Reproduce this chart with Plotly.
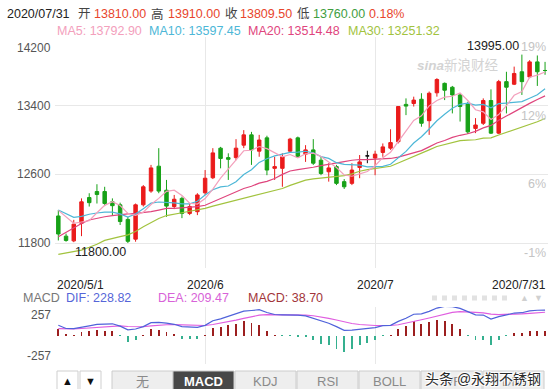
import plotly.graph_objects as go

W, H = 556, 389
PL, PR = 55, 548
FONT = "Liberation Sans, Arial, Noto Sans CJK SC, sans-serif"

# ---------------- data ----------------
idx = list(range(64))
opens = [12115, 11880, 11825, 12030, 12330, 12400, 12400, 12280, 12245, 12075,
         11845, 12245, 12405, 12695, 12415, 12225, 12320, 12145, 12165, 12385,
         12560, 12905, 12795, 12795, 12940, 13060, 12870, 13025, 12670, 12670,
         12870, 13025, 12835, 12885, 12765, 12630, 12690, 12515, 12495, 12680,
         12815, 12790, 12855, 12905, 12980, 13415, 13425, 13475, 13225, 13550,
         13660, 13615, 13525, 13420, 13135, 13195, 13460, 13080, 13680, 13650,
         13795, 13735, 13910, 13810]
highs = [12185, 11910, 12070, 12320, 12380, 12485, 12455, 12320, 12270, 12105,
         12260, 12475, 12710, 12905, 12535, 12360, 12340, 12260, 12380, 12650,
         12905, 12920, 12845, 13010, 13115, 13095, 13060, 13050, 12805, 12845,
         13025, 13040, 12940, 13010, 12805, 12730, 12710, 12545, 12730, 12825,
         12875, 12875, 12960, 13125, 13395, 13485, 13505, 13545, 13565, 13720,
         13670, 13630, 13545, 13445, 13255, 13485, 13590, 13700, 13795, 13855,
         13995, 13930, 13985, 13910]
lows = [11830, 11815, 11810, 11880, 12225, 12260, 12230, 12125, 12010, 11800,
        11815, 12225, 12385, 12380, 12105, 12195, 12090, 12125, 12125, 12360,
        12545, 12670, 12535, 12765, 12905, 12710, 12805, 12590, 12535, 12455,
        12855, 12795, 12745, 12710, 12590, 12515, 12475, 12430, 12475, 12555,
        12730, 12590, 12805, 12885, 12960, 13290, 13390, 13155, 13060, 13505,
        13465, 13310, 13215, 13070, 13080, 13175, 13070, 13070, 13310, 13640,
        13525, 13720, 13630, 13760]
closes = [11905, 11830, 12020, 12280, 12270, 12365, 12260, 12235, 12050, 11820,
          12245, 12455, 12675, 12405, 12230, 12310, 12145, 12225, 12360, 12555,
          12850, 12785, 12775, 12905, 13060, 12885, 13000, 12650, 12690, 12805,
          13010, 12805, 12885, 12730, 12610, 12675, 12495, 12455, 12650, 12745,
          12815, 12835, 12920, 12970, 13390, 13395, 13465, 13195, 13545, 13705,
          13580, 13525, 13390, 13095, 13175, 13460, 13080, 13680, 13615, 13775,
          13680, 13910, 13795, 13809.5]

ma5 = [12180, 12100, 12030, 12045, 12061, 12152, 12239, 12282, 12236, 12146,
       12122, 12160, 12248, 12320, 12402, 12415, 12353, 12263, 12254, 12318,
       12427, 12555, 12665, 12774, 12875, 12881, 12924, 12899, 12856, 12805,
       12831, 12792, 12839, 12847, 12808, 12741, 12679, 12594, 12578, 12605,
       12633, 12701, 12794, 12858, 12986, 13102, 13228, 13282, 13398, 13461,
       13499, 13510, 13549, 13460, 13353, 13328, 13239, 13297, 13401, 13521,
       13565, 13732, 13756, 13792.90]
ma10 = [12184, 12140, 12100, 12110, 12135, 12150, 12160, 12160, 12140, 12103,
        12137, 12200, 12265, 12278, 12274, 12268, 12257, 12256, 12287, 12360,
        12421, 12454, 12464, 12514, 12597, 12654, 12739, 12782, 12815, 12840,
        12856, 12858, 12869, 12851, 12807, 12786, 12736, 12716, 12712, 12707,
        12687, 12690, 12694, 12718, 12796, 12868, 12965, 13038, 13128, 13224,
        13300, 13369, 13416, 13429, 13407, 13414, 13375, 13423, 13430, 13437,
        13447, 13486, 13527, 13597.45]
ma20 = [11874, 11928, 11975, 12027, 12068, 12091, 12106, 12120, 12134, 12140,
        12146, 12155, 12165, 12184, 12204, 12204, 12208, 12216, 12223, 12240,
        12279, 12327, 12365, 12396, 12435, 12461, 12498, 12519, 12551, 12600,
        12639, 12656, 12667, 12683, 12702, 12720, 12738, 12749, 12764, 12773,
        12772, 12774, 12781, 12785, 12801, 12827, 12850, 12877, 12920, 12965,
        12994, 13030, 13055, 13073, 13101, 13141, 13170, 13231, 13279, 13330,
        13374, 13427, 13471, 13514.48]
ma30 = [11668, 11685, 11700, 11718, 11750, 11785, 11830, 11855, 11875, 11895,
        11935, 11990, 12040, 12085, 12120, 12140, 12153, 12170, 12184, 12204,
        12230, 12252, 12274, 12296, 12318, 12339, 12362, 12385, 12410, 12435,
        12471, 12504, 12533, 12548, 12559, 12570, 12577, 12585, 12605, 12636,
        12655, 12667, 12676, 12694, 12733, 12769, 12813, 12846, 12885, 12924,
        12948, 12972, 12993, 12999, 13003, 13022, 13025, 13059, 13090, 13123,
        13145, 13182, 13212, 13251.32]

dif = [92, 63, 62, 78, 87.5, 100.5, 103.5, 105.5, 84.5, 51,
       58.5, 80.5, 116, 118.5, 112, 101, 80, 77, 74, 91.5,
       133.5, 150.5, 173.5, 190.5, 219.5, 225.5, 232.5, 207.5, 189.5, 186.5,
       185.5, 183, 176.5, 155.5, 130.5, 110, 80, 47, 48, 54,
       58.5, 70.5, 88.5, 91.5, 127, 155, 191.5, 194.5, 218, 247.5,
       262.5, 260.5, 245, 213.5, 186.5, 184.5, 148, 169.5, 187.5, 202.5,
       205.5, 222.5, 227.5, 228.82]
dea = [62, 60, 60, 63, 68, 75, 81, 86, 86, 81,
       78, 79, 86, 93, 97, 98, 95, 92, 89, 90,
       99, 110, 124, 138, 155, 170, 183, 188, 188, 188,
       187, 186, 184, 178, 168, 155, 140, 122, 108, 99,
       93, 90, 90, 90, 97, 110, 127, 142, 158, 177,
       195, 208, 215, 215, 209, 204, 193, 189, 189, 192,
       195, 200, 205, 209.47]
macd = [60, 6, 4, 30, 39, 51, 45, 39, -3, -60,
        -39, 3, 60, 51, 30, 6, -30, -30, -30, 3,
        69, 81, 99, 105, 129, 111, 99, 39, 3, -3,
        -3, -6, -15, -45, -75, -90, -120, -150, -120, -90,
        -69, -39, -3, 3, 60, 90, 129, 105, 120, 141,
        135, 105, 60, -3, -45, -39, -90, -39, -3, 21,
        21, 45, 45, 38.70]

price_ticks = [11800, 12600, 13400, 14200]
pct_labels = ["-1%", "6%", "12%", "19%"]
macd_ticks = [-257, 257]
month_ticks = [19, 41]
month_labels = ["2020/6", "2020/7"]
first_date = "2020/5/1"
last_date = "2020/7/31"
header_date = "2020/07/31"
header_pct = "0.18%"
ma_names = ["MA5", "MA10", "MA20", "MA30"]
tabs = ["无", "MACD", "KDJ", "RSI", "BOLL", "WR", "DMI"]
active_tab = "MACD"

# ---------------- styles ----------------
UP, DOWN = "#ea1b1b", "#17a117"
MA_COLORS = ["#f3a0bc", "#4db7d7", "#df457d", "#a2c33e"]
DIF_C, DEA_C = "#4f62da", "#e05ee0"
GRID = "#e8e8e8"
Y_LO, Y_HI = 11509, 14200
X_LO, X_HI = -0.43, 63.38


def px(x):
    return (x - PL) / (PR - PL)


def py(y):
    return (H - y) / H


def ann(text, x, y, xa="left", ya="middle", size=12.5, color="#333", **kw):
    d = dict(text=text, x=px(x), y=py(y), xref="paper", yref="paper",
             xanchor=xa, yanchor=ya, showarrow=False,
             font=dict(size=size, color=color, family=FONT))
    d.update(kw)
    return d


fig = go.Figure()

main_i = [i for i in idx if opens[i] != closes[i]]
flat_i = [i for i in idx if opens[i] == closes[i]]

fig.add_trace(go.Candlestick(
    x=main_i, open=[opens[i] for i in main_i], high=[highs[i] for i in main_i],
    low=[lows[i] for i in main_i], close=[closes[i] for i in main_i],
    increasing=dict(line=dict(color=UP, width=1), fillcolor=UP),
    decreasing=dict(line=dict(color=DOWN, width=1), fillcolor=DOWN),
    whiskerwidth=0, xaxis="x", yaxis="y", hoverinfo="skip"))
fig.add_trace(go.Candlestick(
    x=flat_i, open=[opens[i] for i in flat_i], high=[highs[i] for i in flat_i],
    low=[lows[i] for i in flat_i], close=[closes[i] for i in flat_i],
    increasing=dict(line=dict(color="#111", width=1), fillcolor="#111"),
    decreasing=dict(line=dict(color="#111", width=1), fillcolor="#111"),
    whiskerwidth=0, xaxis="x", yaxis="y", hoverinfo="skip"))

for vals, col in zip([ma30, ma20, ma10, ma5], MA_COLORS[::-1]):
    fig.add_trace(go.Scatter(x=idx, y=vals, mode="lines",
                             line=dict(color=col, width=1.2), hoverinfo="skip",
                             xaxis="x", yaxis="y"))

fig.add_trace(go.Bar(x=idx, y=macd, width=0.12,
                     marker=dict(color=["#9c1f1f" if v >= 0 else "#35b08f" for v in macd],
                                 line=dict(width=0)),
                     xaxis="x2", yaxis="y2", hoverinfo="skip"))
fig.add_trace(go.Scatter(x=idx, y=dea, mode="lines", line=dict(color=DEA_C, width=1.2),
                         xaxis="x2", yaxis="y2", hoverinfo="skip"))
fig.add_trace(go.Scatter(x=idx, y=dif, mode="lines", line=dict(color=DIF_C, width=1.2),
                         xaxis="x2", yaxis="y2", hoverinfo="skip"))

annotations = []
hdr = [(header_date, "#222", 5), ("开", "#444", 76), (f"{opens[-1]:.2f}", "#e8452c", 92),
       ("高", "#444", 149), (f"{highs[-1]:.2f}", "#e8452c", 166),
       ("收", "#444", 223), (f"{closes[-1]:.2f}", "#e8452c", 238),
       ("低", "#444", 295), (f"{lows[-1]:.2f}", "#3f9e3f", 311),
       (header_pct, "#e8452c", 367)]
for t, c, x in hdr:
    annotations.append(ann(t, x, 14, color=c))
for name, vals, col, x in zip(ma_names, [ma5, ma10, ma20, ma30], MA_COLORS, [55, 147, 246, 346]):
    annotations.append(ann(f"{name}: {vals[-1]:.2f}", x, 31.5, color=col))
for p in price_ticks:
    annotations.append(dict(text=str(p), x=px(53), y=p, xref="paper", yref="y",
                            xanchor="right", yanchor="top" if p == Y_HI else "middle",
                            yshift=-2 if p == Y_HI else 0, showarrow=False,
                            font=dict(size=12, color="#555", family=FONT)))
for p, lab in zip(price_ticks, pct_labels):
    annotations.append(dict(text=lab, x=1, y=p, xref="paper", yref="y",
                            xanchor="right", yanchor="top", yshift=-1, showarrow=False,
                            font=dict(size=12.5, color="#c4c4c4", family=FONT)))
imax = highs.index(max(highs))
imin = lows.index(min(lows))
annotations.append(dict(text=f"{highs[imax]:.2f}", x=imax, y=highs[imax], xref="x", yref="y",
                        xanchor="right", yanchor="bottom", xshift=-1, showarrow=False,
                        font=dict(size=12.5, color="#222", family=FONT)))
annotations.append(dict(text=f"{lows[imin]:.2f}", x=imin, y=lows[imin], xref="x", yref="y",
                        xanchor="right", yanchor="top", showarrow=False,
                        font=dict(size=12.5, color="#222", family=FONT)))
annotations.append(ann("<b><i>sina</i></b>新浪财经", 415, 65, size=13.5, color="#d3d3d3"))
annotations.append(ann(first_date, 55, 285, size=12, color="#222"))
for m, lab in zip(month_ticks, month_labels):
    annotations.append(dict(text=lab, x=m, y=py(285), xref="x", yref="paper",
                            xanchor="center", yanchor="middle", showarrow=False,
                            font=dict(size=12, color="#222", family=FONT)))
annotations.append(ann(last_date, 548, 285, xa="right", size=12, color="#222"))
mh = [("MACD", "#777", 21), (f"DIF: {dif[-1]:.2f}", "#5565d8", 64),
      (f"DEA: {dea[-1]:.2f}", "#d862d8", 156), (f"MACD: {macd[-1]:.2f}", "#a2353a", 246)]
for t, c, x in mh:
    annotations.append(ann(t, x, 298, color=c))
annotations.append(ann("▲  ▼", 545, 298, xa="right", size=9, color="#d0d0d0"))
annotations.append(ann(str(macd_ticks[1]), 53, 315, xa="right", size=12, color="#555"))
annotations.append(ann(str(macd_ticks[0]), 53, 356, xa="right", size=12, color="#555"))

shapes = []
shapes.append(dict(type="line", xref="paper", yref="paper", x0=px(432), x1=px(508),
                   y0=py(298), y1=py(298), line=dict(color="#e2e2e2", width=5, dash="dot")))
for x0, x1, sym in [(57, 78, "▲"), (80, 101, "▼")]:
    shapes.append(dict(type="rect", xref="paper", yref="paper", x0=px(x0), x1=px(x1),
                       y0=py(393), y1=py(371), fillcolor="#ffffff",
                       line=dict(color="#cfcfcf", width=1)))
    annotations.append(ann(sym, (x0 + x1) / 2, 381, xa="center", size=11, color="#111"))
tab_x = [112, 173, 235, 297, 359, 421, 483]
for k, t in enumerate(tabs):
    x0 = tab_x[k]
    x1 = x0 + 61
    active = t == active_tab
    shapes.append(dict(type="rect", xref="paper", yref="paper", x0=px(x0), x1=px(x1),
                       y0=py(393), y1=py(371),
                       fillcolor="#484848" if active else "#eeeeee",
                       line=dict(color="#cccccc", width=1)))
    annotations.append(ann(f"<b>{t}</b>" if active else t, (x0 + x1) / 2, 381, xa="center",
                           size=13, color="#ffffff" if active else "#8a8a8a"))
annotations.append(dict(text="头条 @永翔不锈钢", x=px(543), y=py(379), xref="paper", yref="paper",
                        xanchor="right", yanchor="middle", showarrow=False,
                        font=dict(size=14, color="#2a2a2a", family=FONT,
                                  shadow="1px 1px 1px #fff, -1px -1px 1px #fff, 1px -1px 1px #fff, -1px 1px 1px #fff")))

fig.update_layout(
    width=W, height=H, autosize=False,
    margin=dict(l=PL, r=W - PR, t=0, b=0),
    paper_bgcolor="white", plot_bgcolor="white",
    showlegend=False, boxgap=0.36, bargap=0,
    font=dict(family=FONT),
    xaxis=dict(domain=[0, 1], range=[X_LO, X_HI], anchor="y",
               tickvals=month_ticks, showticklabels=False, ticks="",
               showgrid=True, gridcolor=GRID, gridwidth=1, zeroline=False,
               showline=False, rangeslider=dict(visible=False), fixedrange=True),
    yaxis=dict(domain=[py(268), py(37)], range=[Y_LO, Y_HI], anchor="x",
               tickvals=price_ticks, showticklabels=False, ticks="",
               showgrid=True, gridcolor=GRID, gridwidth=1, zeroline=False, showline=False),
    xaxis2=dict(domain=[0, 1], range=[X_LO, X_HI], anchor="y2", matches="x",
                tickvals=month_ticks, showticklabels=False, ticks="",
                showgrid=True, gridcolor=GRID, zeroline=False, showline=False),
    yaxis2=dict(domain=[py(364), py(307)], range=[macd_ticks[0], macd_ticks[1]], anchor="x2",
                tickvals=macd_ticks, showticklabels=False, ticks="",
                showgrid=True, gridcolor=GRID, zeroline=False, showline=False),
    annotations=annotations,
    shapes=shapes,
)

fig.write_html("out.html", config={"displayModeBar": False},
               post_script="document.body.style.margin='0';document.body.style.overflow='hidden';")
